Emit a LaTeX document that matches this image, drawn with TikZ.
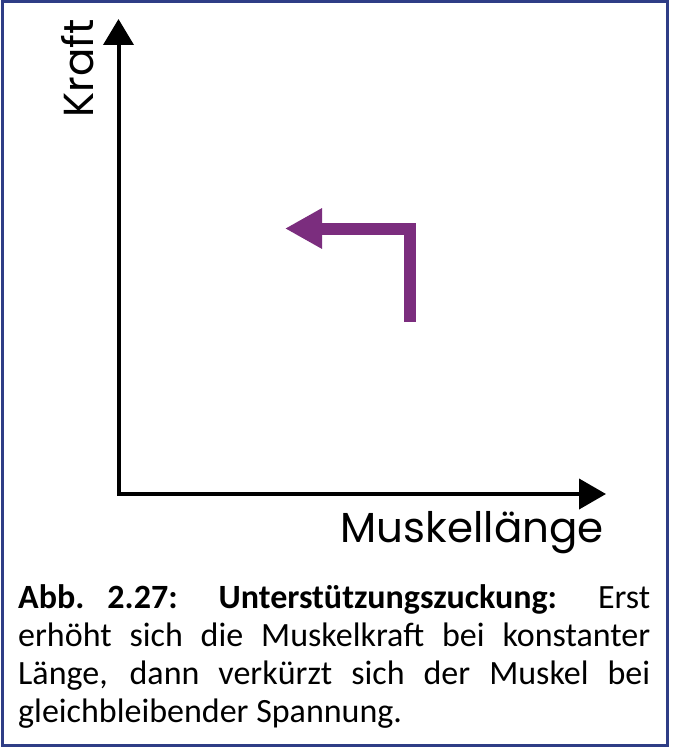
\documentclass[tikz,border=0pt]{standalone}
\usepackage{fontspec}
\setmainfont{Carlito}
\newfontfamily\axisfont{Poppins}
\usetikzlibrary{arrows.meta,positioning}
\definecolor{frame}{HTML}{2F3D86}
\definecolor{muscle}{HTML}{7B2D7E}

\begin{document}
\begin{tikzpicture}[x=1pt, y=-1pt,
  axis/.style={line width=4pt, line join=miter, {Triangle[length=26pt,width=30pt]}-{Triangle[length=27pt,width=30pt]}},
  course/.style={muscle, line width=12pt, line join=miter, -{Triangle[length=37pt,width=38pt]}},
  axislabel/.style={inner sep=0pt, font=\axisfont\fontsize{42}{42}\selectfont},
  caption/.style={inner sep=0pt, text width=632pt, align=justify, font=\fontsize{34}{38}\selectfont}
]
  \useasboundingbox (0,0) rectangle (672,751);
  % Frame
  \draw[frame, line width=3pt] (2,2) rectangle (667.5,745.5);
  % Axes
  \coordinate (ytip) at (118.5,19);
  \coordinate (origin) at (118.5,494);
  \coordinate (xtip) at (606,494);
  \draw[axis] (ytip) -- (origin) -- (xtip);
  \node[axislabel, rotate=90, anchor=base east] (kraft) at (93,19) {Kraft};
  \node[axislabel, anchor=base east] (laenge) at (604,542) {Muskellänge};
  % Twitch course
  \coordinate (start) at (410,322);
  \coordinate (corner) at (410,228.5);
  \coordinate (end) at (285,228.5);
  \draw[course] (start) -- (corner) -- (end);
  % Caption
  \node[caption, anchor=base west] (caption) at (18,608) {\textbf{Abb.\ 2.27: Unterstützungszuckung:} Erst\linebreak erhöht sich die Muskelkraft bei konstanter\linebreak Länge, dann verkürzt sich der Muskel bei\linebreak gleichbleibender Spannung.};
\end{tikzpicture}
\end{document}
